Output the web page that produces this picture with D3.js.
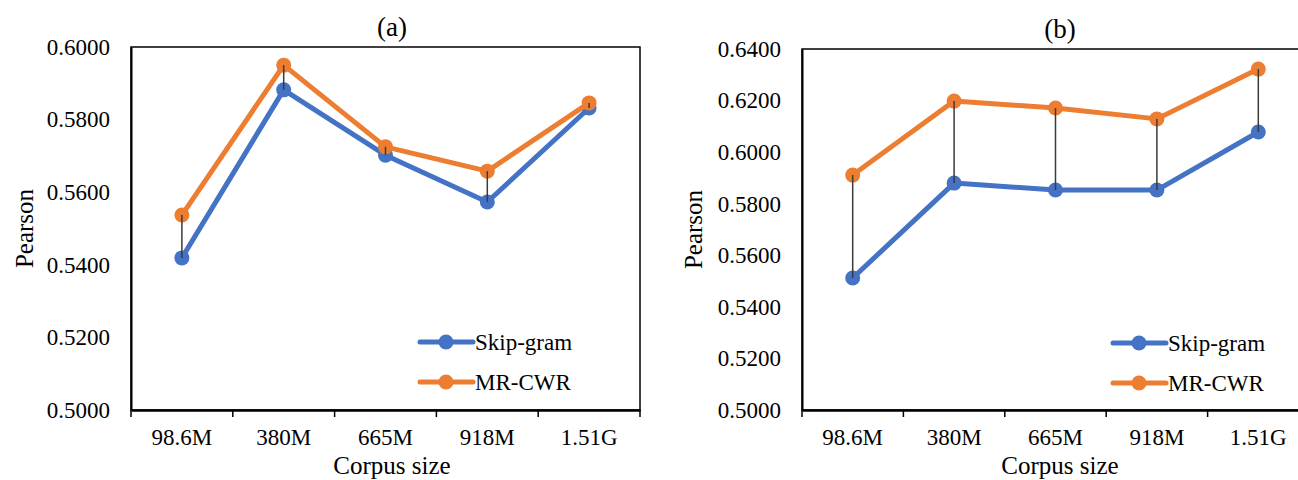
<!DOCTYPE html>
<html>
<head>
<meta charset="utf-8">
<script src="https://cdn.jsdelivr.net/npm/d3@7"></script>
<style>
  body { margin: 0; background: #fff; }
  svg text { font-family: "Liberation Serif", "Times New Roman", serif; fill: #000; }
</style>
</head>
<body>
<div id="chart"></div>
<script>
var svgWidth = 1298;
var svgHeight = 480;
var serif = '"Liberation Serif", "Times New Roman", serif';

// data
var categories = ["98.6M", "380M", "665M", "918M", "1.51G"];
var seriesNames = ["Skip-gram", "MR-CWR"];
var colors = ["#4472C4", "#ED7D31"];

var skipA = [0.5419, 0.5882, 0.5702, 0.5573, 0.5832];
var mrcwrA = [0.5537, 0.5950, 0.5725, 0.5658, 0.5846];
var ticksA = [0.50, 0.52, 0.54, 0.56, 0.58, 0.60];

var skipB = [0.5512, 0.5880, 0.5853, 0.5853, 0.6078];
var mrcwrB = [0.5911, 0.6198, 0.6171, 0.6129, 0.6322];
var ticksB = [0.50, 0.52, 0.54, 0.56, 0.58, 0.60, 0.62, 0.64];

var svg = d3.select("#chart")
  .append("svg")
  .attr("width", svgWidth)
  .attr("height", svgHeight)
  .attr("font-family", serif);

function drawPanel(opts) {
  var g = svg.append("g")
    .attr("transform", `translate(${opts.left}, ${opts.top})`);
  var width = opts.width;
  var height = opts.height;

  var x = d3.scaleBand()
    .domain(categories)
    .range([0, width]);

  var y = d3.scaleLinear()
    .domain([opts.ticks[0], opts.ticks[opts.ticks.length - 1]])
    .range([height, 0]);

  // frame
  g.append("rect")
    .attr("x", 0)
    .attr("y", 0)
    .attr("width", width)
    .attr("height", height)
    .attr("fill", "none")
    .attr("stroke", "#000")
    .attr("stroke-width", 1.5);

  // y axis labels
  var yAxis = g.append("g")
    .call(d3.axisLeft(y).tickValues(opts.ticks).tickFormat(d3.format(".4f")).tickSize(0).tickPadding(21));
  yAxis.attr("font-family", serif).attr("font-size", null);
  yAxis.select(".domain").attr("stroke-width", 2);
  yAxis.selectAll("text")
    .style("font-family", serif)
    .style("font-size", "23px")
    .attr("fill", "#000");

  // x axis with category boundary ticks
  var xAxis = g.append("g")
    .attr("transform", `translate(0, ${height})`)
    .call(d3.axisBottom(x).tickSize(0).tickPadding(19));
  xAxis.attr("font-family", serif).attr("font-size", null);
  xAxis.select(".domain").attr("stroke-width", 2.5);
  xAxis.selectAll("text")
    .style("font-family", serif)
    .style("font-size", "23px")
    .attr("fill", "#000");

  var bounds = categories.map(d => x(d)).concat([width]);
  g.selectAll(".bound")
    .data(bounds)
    .enter()
    .append("line")
    .attr("x1", d => d)
    .attr("x2", d => d)
    .attr("y1", height)
    .attr("y2", height + 7)
    .attr("stroke", "#000")
    .attr("stroke-width", 1.5);

  var cx = d => x(d) + x.bandwidth() / 2;

  var line = d3.line()
    .x((d, i) => cx(categories[i]))
    .y(d => y(d));

  opts.series.forEach(function (values, s) {
    g.append("path")
      .datum(values)
      .attr("d", line)
      .attr("fill", "none")
      .attr("stroke", colors[s])
      .attr("stroke-width", 5)
      .attr("stroke-linejoin", "round");

    g.selectAll(".pt" + s)
      .data(values)
      .enter()
      .append("circle")
      .attr("cx", (d, i) => cx(categories[i]))
      .attr("cy", d => y(d))
      .attr("r", 7.5)
      .attr("fill", colors[s]);
  });

  // high-low drop lines on top of markers
  g.selectAll(".drop")
    .data(categories)
    .enter()
    .append("line")
    .attr("x1", cx)
    .attr("x2", cx)
    .attr("y1", (d, i) => y(opts.series[0][i]))
    .attr("y2", (d, i) => y(opts.series[1][i]))
    .attr("stroke", "#3a3a3a")
    .attr("stroke-width", 1.5);

  // title
  g.append("text")
    .attr("x", opts.titleX)
    .attr("y", -11)
    .attr("text-anchor", "middle")
    .style("font-size", "27px")
    .text(opts.title);

  // axis titles
  g.append("text")
    .attr("x", opts.titleX)
    .attr("y", height + 64)
    .attr("text-anchor", "middle")
    .style("font-size", "25px")
    .text("Corpus size");

  g.append("text")
    .attr("transform", `translate(${-opts.left + opts.yLabelX}, ${height / 2}) rotate(-90)`)
    .attr("text-anchor", "middle")
    .style("font-size", "25px")
    .text("Pearson");

  // legend
  var legend = g.append("g")
    .attr("transform", `translate(${opts.legendX}, ${opts.legendY})`);
  seriesNames.forEach(function (name, s) {
    var row = legend.append("g").attr("transform", `translate(0, ${s * 40})`);
    row.append("line")
      .attr("x1", 0).attr("x2", 53)
      .attr("y1", 0).attr("y2", 0)
      .attr("stroke", colors[s])
      .attr("stroke-width", 5)
      .attr("stroke-linecap", "round");
    row.append("circle")
      .attr("cx", 26).attr("cy", 0).attr("r", 7.5)
      .attr("fill", colors[s]);
    row.append("text")
      .attr("x", 55).attr("y", 8)
      .style("font-size", "23px")
      .text(name);
  });
}

drawPanel({
  left: 131, top: 47, width: 509, height: 363,
  ticks: ticksA, series: [skipA, mrcwrA],
  title: "(a)", titleX: 261, yLabelX: 33,
  legendX: 289, legendY: 295
});

drawPanel({
  left: 802, top: 49, width: 507, height: 361,
  ticks: ticksB, series: [skipB, mrcwrB],
  title: "(b)", titleX: 258, yLabelX: 702,
  legendX: 311, legendY: 294
});
</script>
</body>
</html>
